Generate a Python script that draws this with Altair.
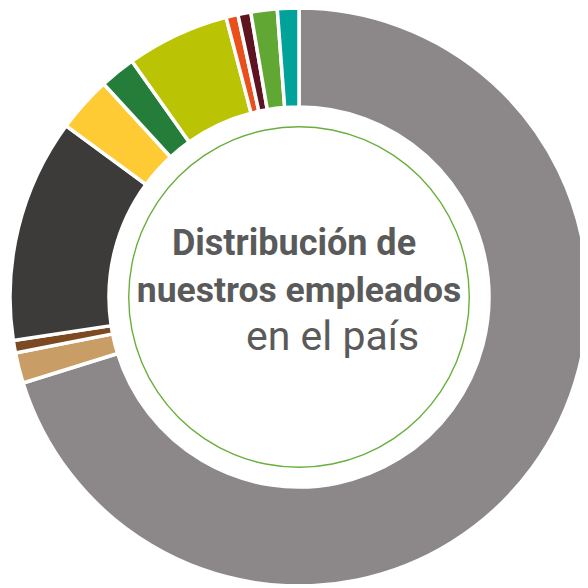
import math
import altair as alt
import pandas as pd

categorias = ["Grupo A", "Grupo B", "Grupo C", "Grupo D", "Grupo E", "Grupo F",
              "Grupo G", "Grupo H", "Grupo I", "Grupo J", "Grupo K"]
porcentajes = [70.2, 1.7, 0.7, 12.5, 3.1, 2.0, 5.75, 0.67, 0.72, 1.47, 1.2]
colores = ["#8C8889", "#C99D66", "#7B4A22", "#3C3B39", "#FFCB34", "#257D3A",
           "#BBC404", "#E9501C", "#5F1220", "#61A733", "#00A29A"]
lineas_titulo = ["Distribución de", "nuestros empleados", "en el país"]

df = pd.DataFrame({
    "categoria": categorias,
    "valor": porcentajes,
    "orden": list(range(len(categorias))),
})

CX, CY = 291, 289
FONT = "Roboto, sans-serif"

donut = alt.Chart(df).mark_arc(
    radius=289, radius2=190, stroke="white", strokeWidth=3.5
).encode(
    theta=alt.Theta("valor:Q", stack=True),
    order=alt.Order("orden:Q"),
    color=alt.Color("categoria:N", scale=alt.Scale(domain=categorias, range=colores), legend=None),
    x=alt.value(CX),
    y=alt.value(CY),
)

ring = alt.Chart(pd.DataFrame({"a": [0]})).mark_arc(
    radius=171, radius2=169.6, theta=0, theta2=2 * math.pi, color="#6AAF3D"
).encode(x=alt.value(CX), y=alt.value(CY))

t1 = alt.Chart(pd.DataFrame({"t": [lineas_titulo[0]]})).mark_text(
    font=FONT, fontSize=36, fontWeight="bold", color="#5A5A5A", align="center", baseline="alphabetic"
).encode(text="t:N", x=alt.value(286), y=alt.value(247))

t2 = alt.Chart(pd.DataFrame({"t": [lineas_titulo[1]]})).mark_text(
    font=FONT, fontSize=35.5, fontWeight="bold", color="#5A5A5A", align="center", baseline="alphabetic"
).encode(text="t:N", x=alt.value(291), y=alt.value(294))

t3 = alt.Chart(pd.DataFrame({"t": [lineas_titulo[2]]})).mark_text(
    font=FONT, fontSize=41, fontWeight="normal", color="#5A5A5A", align="center", baseline="alphabetic"
).encode(text="t:N", x=alt.value(324.5), y=alt.value(342))

chart = alt.layer(donut, ring, t1, t2, t3).properties(
    width=572, height=576, padding=0,
    autosize=alt.AutoSizeParams(type="none"),
).configure_view(stroke=None)

chart.save("out.html", embed_options={"renderer": "svg", "actions": False})
